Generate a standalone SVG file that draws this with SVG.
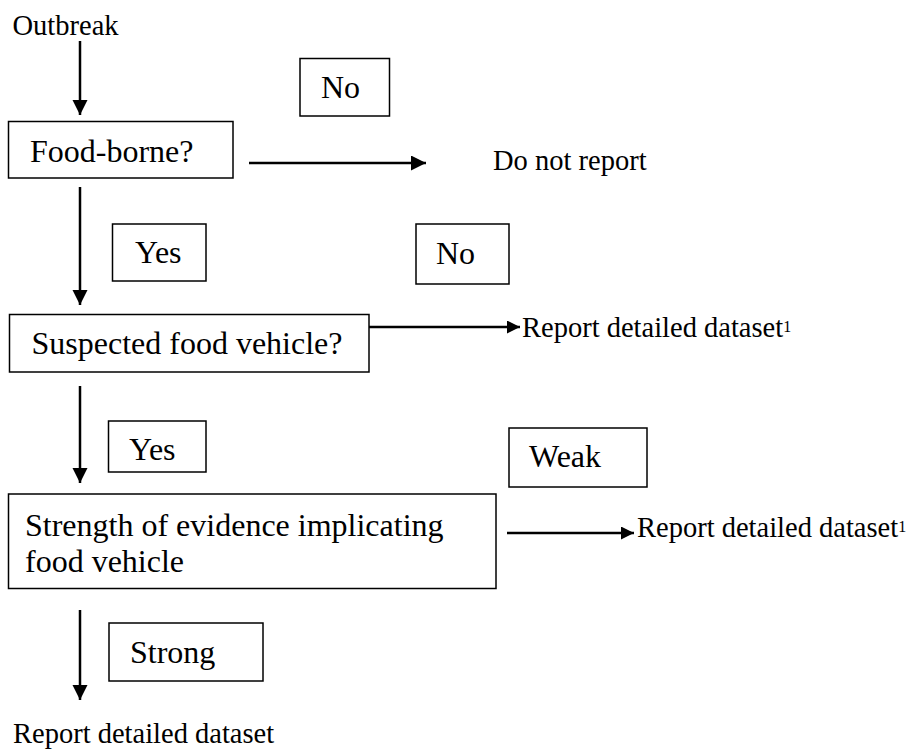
<svg xmlns="http://www.w3.org/2000/svg" width="914" height="749" viewBox="0 0 914 749">
<style>
  text { font-family: "Liberation Serif", "Times New Roman", "DejaVu Serif", serif; fill: #000; }
  .lbl { font-size: 32px; }
  .txt { font-size: 28.5px; }
  .sup { font-size: 16px; }
  .box { fill: #fff; stroke: #000; stroke-width: 1.5; }
  .conn { stroke: #000; stroke-width: 2.5; fill: none; }
</style>
<defs>
  <marker id="arr" markerUnits="userSpaceOnUse" markerWidth="16" markerHeight="16" refX="15" refY="7.5" orient="auto">
    <path d="M0,0 L15,7.5 L0,15 Z" fill="#000"/>
  </marker>
  <marker id="arrs" markerUnits="userSpaceOnUse" markerWidth="14" markerHeight="14" refX="13" refY="6.5" orient="auto">
    <path d="M0,0 L13,6.5 L0,13 Z" fill="#000"/>
  </marker>
</defs>

<g id="connectors">
  <line class="conn" x1="80" y1="41" x2="80" y2="115" marker-end="url(#arr)"/>
  <line class="conn" x1="249" y1="163" x2="426" y2="163" marker-end="url(#arr)"/>
  <line class="conn" x1="80" y1="187" x2="80" y2="305" marker-end="url(#arr)"/>
  <line class="conn" x1="369" y1="327" x2="520" y2="327" marker-end="url(#arrs)"/>
  <line class="conn" x1="80" y1="386" x2="80" y2="483" marker-end="url(#arr)"/>
  <line class="conn" x1="507" y1="533" x2="634" y2="533" marker-end="url(#arrs)"/>
  <line class="conn" x1="80" y1="610" x2="80" y2="700" marker-end="url(#arr)"/>
</g>

<g id="outbreak">
  <text class="txt" x="12.5" y="35">Outbreak</text>
</g>

<g id="food-borne">
  <rect class="box" x="8.5" y="121.5" width="224.5" height="56.5"/>
  <text class="lbl" x="30" y="162">Food-borne?</text>
</g>

<g id="label-no-1">
  <rect class="box" x="300" y="58.5" width="89.5" height="57.5"/>
  <text class="lbl" x="321" y="98">No</text>
</g>

<g id="do-not-report">
  <text class="txt" x="493" y="170">Do not report</text>
</g>

<g id="label-yes-1">
  <rect class="box" x="112.5" y="224" width="93.5" height="57"/>
  <text class="lbl" x="135" y="263">Yes</text>
</g>

<g id="label-no-2">
  <rect class="box" x="416" y="224" width="93" height="60"/>
  <text class="lbl" x="436" y="264">No</text>
</g>

<g id="suspected">
  <rect class="box" x="9.5" y="314.5" width="359.5" height="57.5"/>
  <text class="lbl" x="31.5" y="354">Suspected food vehicle?</text>
</g>

<g id="report-1">
  <text class="txt" x="522" y="337">Report detailed dataset<tspan class="sup" dy="-5">1</tspan></text>
</g>

<g id="label-yes-2">
  <rect class="box" x="108.5" y="421" width="97.5" height="51"/>
  <text class="lbl" x="129" y="460">Yes</text>
</g>

<g id="label-weak">
  <rect class="box" x="509" y="428" width="138" height="59"/>
  <text class="lbl" x="529" y="467">Weak</text>
</g>

<g id="strength">
  <rect class="box" x="8.5" y="494" width="487.5" height="94.5"/>
  <text class="lbl" x="25" y="536">Strength of evidence implicating</text>
  <text class="lbl" x="25" y="572">food vehicle</text>
</g>

<g id="report-2">
  <text class="txt" x="637" y="537">Report detailed dataset<tspan class="sup" dy="-5">1</tspan></text>
</g>

<g id="label-strong">
  <rect class="box" x="109" y="623" width="154" height="58"/>
  <text class="lbl" x="130" y="663">Strong</text>
</g>

<g id="report-final">
  <text class="txt" x="13" y="743">Report detailed dataset</text>
</g>
</svg>
